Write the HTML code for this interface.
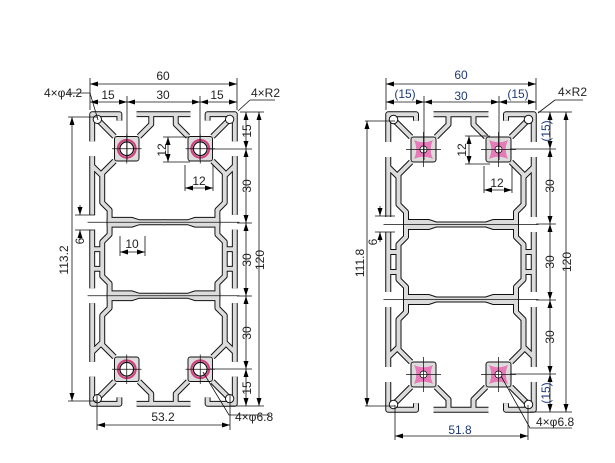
<!DOCTYPE html>
<html><head><meta charset="utf-8"><style>
html,body{margin:0;padding:0;background:#fff;}
svg{display:block;}
text{font-family:"Liberation Sans",sans-serif;font-size:12px;fill:#222;}
.b text{fill:#1d3a78;}
</style></head><body>
<svg width="615" height="463" viewBox="0 0 615 463" xmlns="http://www.w3.org/2000/svg">
<defs>
<marker id="a" viewBox="0 0 8 6" refX="8" refY="3" markerWidth="8" markerHeight="6" orient="auto-start-reverse" markerUnits="userSpaceOnUse"><path d="M0,0.5 L8,3 L0,5.5z" fill="#000"/></marker>
<path id="ql" fill="none" d="M0.9,12 L0.9,0.9 L12,0.9 L12,3.5 M19,0.9 L30,0.9 M25,0.9 L25,5 L20,10 M3,3 L10,10 M0.9,18 L0.9,42 M0.9,48 L0.9,60 M0.9,22 L5,26 M10,20 L5,25 L5,37 L8,40 L8,50 L5,53 L5,60 M0.9,56 L5,56"/>
<path id="qs" d="M11,11 H19 V19 H11Z M8,44 L17,44 L20,45 L30,45 L30,45 L20,45 L17,46 L8,46Z"/>
<g id="qb"><use href="#ql"/><use href="#qs"/></g>
<g id="prof">
<g stroke="#111" stroke-width="2.4" fill="#111" stroke-linejoin="round">
<use href="#qb"/><use href="#qb" transform="translate(60,0) scale(-1,1)"/>
<use href="#qb" transform="translate(0,120) scale(1,-1)"/><use href="#qb" transform="translate(60,120) scale(-1,-1)"/>
</g>
<g stroke="#dcdcdc" stroke-width="1.6" fill="#dcdcdc" stroke-linejoin="round">
<use href="#qb"/><use href="#qb" transform="translate(60,0) scale(-1,1)"/>
<use href="#qb" transform="translate(0,120) scale(1,-1)"/><use href="#qb" transform="translate(60,120) scale(-1,-1)"/>
</g>
<g fill="#fff" stroke="#111" stroke-width="0.4">
<circle cx="3" cy="3" r="1.7"/><circle cx="57" cy="3" r="1.7"/><circle cx="3" cy="117" r="1.7"/><circle cx="57" cy="117" r="1.7"/>
</g>
</g>
</defs>

<!-- LEFT -->
<g transform="translate(90,112) scale(2.45)"><use href="#prof"/>
<g fill="#fff" stroke="#d2407f" stroke-width="0.9">
<circle cx="15" cy="15" r="3.6"/><circle cx="45" cy="15" r="3.6"/><circle cx="15" cy="105" r="3.6"/><circle cx="45" cy="105" r="3.6"/></g>
<g fill="none" stroke="#111" stroke-width="0.5">
<circle cx="15" cy="15" r="2.8"/><circle cx="45" cy="15" r="2.8"/><circle cx="15" cy="105" r="2.8"/><circle cx="45" cy="105" r="2.8"/></g>
<g stroke="#111" stroke-width="0.3">
<path d="M15,9V21M9,15H21M45,9V21M39,15H51M15,99V111M9,105H21M45,99V111M39,105H51M-1,45H61M-1,75H61"/></g>
</g>
<g stroke="#111" stroke-width="0.8" fill="none">
<path d="M90,78V110M237,78V110" />
<path d="M90,84H237" marker-start="url(#a)" marker-end="url(#a)"/>
<path d="M127,96V160M200,96V160"/>
<path d="M90,102H127" marker-start="url(#a)" marker-end="url(#a)"/>
<path d="M127,102H200" marker-start="url(#a)" marker-end="url(#a)"/>
<path d="M200,102H237" marker-start="url(#a)" marker-end="url(#a)"/>
<path d="M68,93L90,93L98,120"/>
<path d="M250,100H275M250,100L238,111"/>
<path d="M240,112H264M210,149H252M237,223H252M237,296H252M210,369H252M230,406H264"/>
<path d="M246,112V149" marker-start="url(#a)" marker-end="url(#a)"/>
<path d="M246,149V223" marker-start="url(#a)" marker-end="url(#a)"/>
<path d="M246,223V296" marker-start="url(#a)" marker-end="url(#a)"/>
<path d="M246,296V369" marker-start="url(#a)" marker-end="url(#a)"/>
<path d="M246,369V406" marker-start="url(#a)" marker-end="url(#a)"/>
<path d="M259,112V406" marker-start="url(#a)" marker-end="url(#a)"/>
<path d="M68,117H98M68,401H98"/>
<path d="M72,117V401" marker-start="url(#a)" marker-end="url(#a)"/>
<path d="M75,215H95M75,230H95"/>
<path d="M80,205V215" marker-end="url(#a)"/><path d="M80,240V230" marker-end="url(#a)"/>
<path d="M120,236V256M145,236V256"/>
<path d="M120,252H145" marker-start="url(#a)" marker-end="url(#a)"/>
<path d="M163,137H190M163,162H190"/>
<path d="M168,137V162" marker-start="url(#a)" marker-end="url(#a)"/>
<path d="M185,165V191M213,165V191"/>
<path d="M185,188H213" marker-start="url(#a)" marker-end="url(#a)"/>
<path d="M97,395V430M230,395V430"/>
<path d="M97,425H230" marker-start="url(#a)" marker-end="url(#a)"/>
<path d="M203,372L229,415H270"/>
</g>
<g>
<text x="163" y="80" text-anchor="middle">60</text>
<text x="108" y="99" text-anchor="middle">15</text>
<text x="163" y="99" text-anchor="middle">30</text>
<text x="217" y="99" text-anchor="middle">15</text>
<text x="44" y="97" font-size="11">4×φ4.2</text>
<text x="251" y="97" font-size="11">4×R2</text>
<text transform="translate(251,131) rotate(-90)" text-anchor="middle">15</text>
<text transform="translate(251,186) rotate(-90)" text-anchor="middle">30</text>
<text transform="translate(251,260) rotate(-90)" text-anchor="middle">30</text>
<text transform="translate(251,333) rotate(-90)" text-anchor="middle">30</text>
<text transform="translate(251,388) rotate(-90)" text-anchor="middle">15</text>
<text transform="translate(264,260) rotate(-90)" text-anchor="middle">120</text>
<text transform="translate(68,260) rotate(-90)" text-anchor="middle">113.2</text>
<text transform="translate(84,241) rotate(-90)" text-anchor="middle">6</text>
<text x="132" y="248" text-anchor="middle">10</text>
<text transform="translate(166,150) rotate(-90)" text-anchor="middle">12</text>
<text x="199" y="185" text-anchor="middle">12</text>
<text x="163" y="421" text-anchor="middle">53.2</text>
<text x="235" y="421" font-size="11">4×φ6.8</text>
</g>

<!-- RIGHT -->
<g transform="translate(386,112) scale(2.5)"><use href="#prof"/>
<g fill="#e879b8">
<path id="cr" d="M11.2,11.2 Q15,13 18.8,11.2 Q17,15 18.8,18.8 Q15,17 11.2,18.8 Q13,15 11.2,11.2Z"/>
<use href="#cr" transform="translate(30,0)"/><use href="#cr" transform="translate(0,90)"/><use href="#cr" transform="translate(30,90)"/></g>
<g fill="#fff" stroke="#111" stroke-width="0.3">
<circle cx="15" cy="15" r="1.4"/><circle cx="45" cy="15" r="1.4"/><circle cx="15" cy="105" r="1.4"/><circle cx="45" cy="105" r="1.4"/></g>
<g stroke="#111" stroke-width="0.3">
<path d="M15,8V22M8,15H22M45,8V22M38,15H52M15,98V112M8,105H22M45,98V112M38,105H52M-1,45H61M-1,75H61"/></g>
</g>
<g stroke="#111" stroke-width="0.8" fill="none">
<path d="M386,78V110M536,78V110"/>
<path d="M386,84H536" marker-start="url(#a)" marker-end="url(#a)"/>
<path d="M424,96V160M499,96V160"/>
<path d="M386,102H424" marker-start="url(#a)" marker-end="url(#a)"/>
<path d="M424,102H499" marker-start="url(#a)" marker-end="url(#a)"/>
<path d="M499,102H536" marker-start="url(#a)" marker-end="url(#a)"/>
<path d="M555,100H583M555,100L538,113"/>
<path d="M538,112H572M510,149H556M536,224H556M536,300H556M510,374H556M530,412H572"/>
<path d="M550,112V149" marker-start="url(#a)" marker-end="url(#a)"/>
<path d="M550,149V224" marker-start="url(#a)" marker-end="url(#a)"/>
<path d="M550,224V300" marker-start="url(#a)" marker-end="url(#a)"/>
<path d="M550,300V374" marker-start="url(#a)" marker-end="url(#a)"/>
<path d="M550,374V412" marker-start="url(#a)" marker-end="url(#a)"/>
<path d="M566,112V412" marker-start="url(#a)" marker-end="url(#a)"/>
<path d="M365,121H395M365,406H395"/>
<path d="M367,121V406" marker-start="url(#a)" marker-end="url(#a)"/>
<path d="M375,216H395M375,232H395"/>
<path d="M380,206V216" marker-end="url(#a)"/><path d="M380,242V232" marker-end="url(#a)"/>
<path d="M465,136H490M465,164H490"/>
<path d="M469,136V164" marker-start="url(#a)" marker-end="url(#a)"/>
<path d="M484,166V193M512,166V193"/>
<path d="M484,190H512" marker-start="url(#a)" marker-end="url(#a)"/>
<path d="M395,405V440M528,405V440"/>
<path d="M395,436H528" marker-start="url(#a)" marker-end="url(#a)"/>
<path d="M501,376L530,428H572"/>
</g>
<g class="b">
<text x="461" y="79" text-anchor="middle">60</text>
<text x="405" y="98" text-anchor="middle">(15)</text>
<text x="461" y="100" text-anchor="middle">30</text>
<text x="518" y="98" text-anchor="middle">(15)</text>
<text transform="translate(550,131) rotate(-90)" text-anchor="middle">(15)</text>
<text transform="translate(550,393) rotate(-90)" text-anchor="middle">(15)</text>
<text x="460" y="434" text-anchor="middle">51.8</text>
</g>
<g>
<text x="558" y="96" font-size="11">4×R2</text>
<text transform="translate(554,186) rotate(-90)" text-anchor="middle">30</text>
<text transform="translate(554,262) rotate(-90)" text-anchor="middle">30</text>
<text transform="translate(554,337) rotate(-90)" text-anchor="middle">30</text>
<text transform="translate(571,262) rotate(-90)" text-anchor="middle">120</text>
<text transform="translate(364,263) rotate(-90)" text-anchor="middle">111.8</text>
<text transform="translate(377,242) rotate(-90)" text-anchor="middle">6</text>
<text transform="translate(466,150) rotate(-90)" text-anchor="middle">12</text>
<text x="497" y="187" text-anchor="middle">12</text>
<text x="536" y="426" font-size="11">4×φ6.8</text>
</g>
</svg>
</body></html>
